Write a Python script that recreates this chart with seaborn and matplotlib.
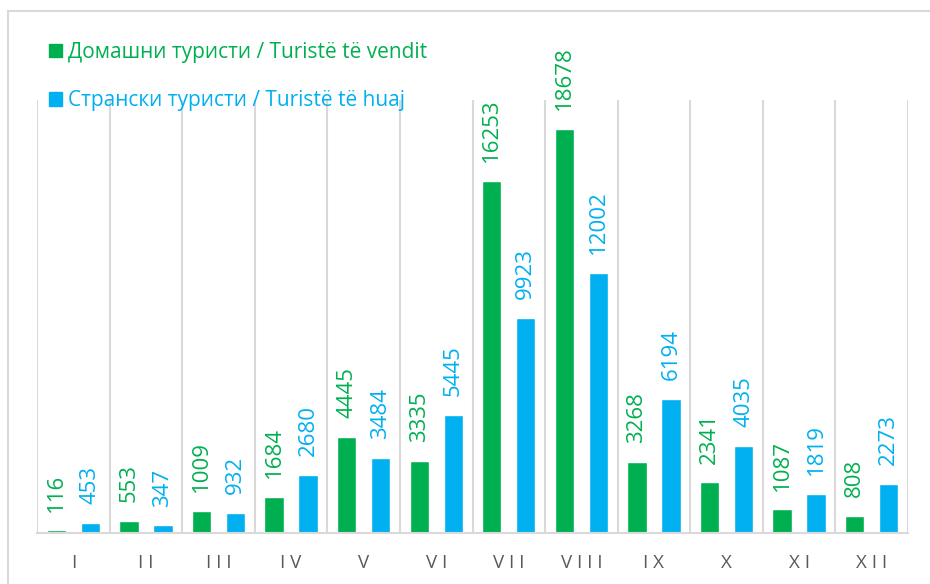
import pandas as pd
import matplotlib.pyplot as plt
from matplotlib.patches import Patch, Rectangle
import seaborn as sns

months = ['I', 'II', 'III', 'IV', 'V', 'VI', 'VII', 'VIII', 'IX', 'X', 'XI', 'XII']
domestic = [116, 553, 1009, 1684, 4445, 3335, 16253, 18678, 3268, 2341, 1087, 808]
foreign = [453, 347, 932, 2680, 3484, 5445, 9923, 12002, 6194, 4035, 1819, 2273]
series_names = ['Домашни туристи / Turistë të vendit', 'Странски туристи / Turistë të huaj']
colors = ['#00B050', '#00B0F0']

df = pd.DataFrame({
    'month': months * 2,
    'value': domestic + foreign,
    'series': [series_names[0]] * len(months) + [series_names[1]] * len(months),
})

sns.set_style('white')
plt.rcParams['font.family'] = ['Open Sans', 'DejaVu Sans']

fig = plt.figure(figsize=(9.3, 5.84), dpi=100)
ax = fig.add_axes([37 / 930, 51 / 584, 871 / 930, 433 / 584])
sns.barplot(data=df, x='month', y='value', hue='series', palette=colors,
            saturation=1, width=0.936, gap=0.43, legend=False, ax=ax)

ax.set_xlim(-0.5, len(months) - 0.5)
ax.set_ylim(0, 20000)
ax.set_yticks([])
ax.set_xlabel('')
ax.set_ylabel('')
ax.set_xticks(range(len(months)))
ax.set_xticklabels([' '.join(m) for m in months])
ax.set_xticks([i - 0.5 for i in range(len(months) + 1)], minor=True)
ax.grid(False)
ax.grid(which='minor', axis='x', color='#D9D9D9', lw=1.5)
ax.tick_params(which='both', length=0)
ax.tick_params(axis='x', pad=15, labelsize=13.5, labelcolor='#595959')
for s in ['left', 'top', 'right']:
    ax.spines[s].set_visible(False)
ax.spines['bottom'].set_color('#D9D9D9')
ax.spines['bottom'].set_linewidth(1.5)

for cont, c in zip(ax.containers, colors):
    ax.bar_label(cont, rotation=90, padding=13.5, color=c, fontsize=16)

fig.legend(handles=[Patch(color=c) for c in colors], labels=series_names,
           loc='upper left', bbox_to_anchor=(49 / 930, 1 - 42 / 584),
           frameon=False, fontsize=15, labelcolor=colors,
           handlelength=0.62, handleheight=0.62, handletextpad=0.3,
           labelspacing=1.3, borderpad=0, borderaxespad=0)

fig.add_artist(Rectangle((8 / 930, -0.1), 1.2, 1.1 - 11 / 584, transform=fig.transFigure,
                         fill=False, ec='#D9D9D9', lw=1.5))

fig.savefig('out.png', dpi=100)
